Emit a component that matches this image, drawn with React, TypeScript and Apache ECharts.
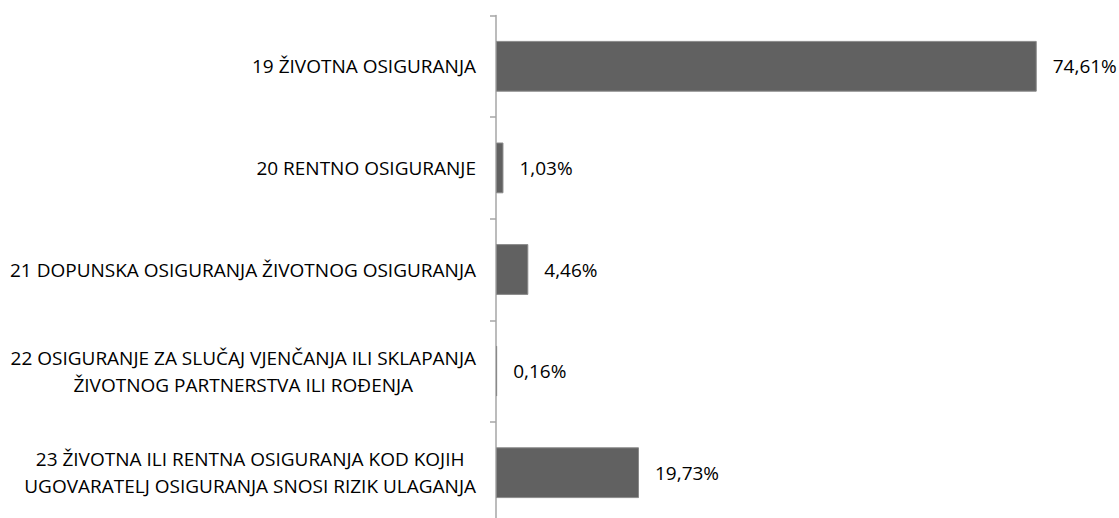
import React, { useEffect, useRef } from "react";
import * as echarts from "echarts";

const categories = [
  "19 ŽIVOTNA OSIGURANJA",
  "20 RENTNO OSIGURANJE",
  "21 DOPUNSKA OSIGURANJA ŽIVOTNOG OSIGURANJA",
  "22 OSIGURANJE ZA SLUČAJ VJENČANJA ILI SKLAPANJA\nŽIVOTNOG PARTNERSTVA ILI ROĐENJA",
  "23 ŽIVOTNA ILI RENTNA OSIGURANJA KOD KOJIH\nUGOVARATELJ OSIGURANJA SNOSI RIZIK ULAGANJA",
];
const shares = [74.61, 1.03, 4.46, 0.16, 19.73];

const FONT = "'Open Sans', sans-serif";
const FS = 19;

export default function App() {
  const ref = useRef<HTMLDivElement>(null);
  useEffect(() => {
    if (!ref.current) return;
    const chart = echarts.init(ref.current, null, { renderer: "svg" });
    chart.setOption({
      animation: false,
      backgroundColor: "#ffffff",
      grid: { left: 496, top: 15.5, width: 579.8, height: 508, containLabel: false },
      xAxis: {
        type: "value",
        min: 0,
        max: 80,
        show: false,
      },
      yAxis: {
        type: "category",
        inverse: true,
        data: categories,
        axisLine: { show: true, lineStyle: { color: "#a6a6a6", width: 1.5 } },
        axisTick: { show: true, length: 6, lineStyle: { color: "#a6a6a6", width: 1.5 } },
        splitLine: { show: false },
        axisLabel: {
          margin: 20,
          fontFamily: FONT,
          fontSize: FS,
          color: "#000",
          lineHeight: 27,
          formatter: (v: string) =>
            v
              .split("\n")
              .map((l) => "{c|" + l + "}")
              .join("\n"),
          rich: {
            c: { align: "center", fontFamily: FONT, fontSize: FS, color: "#000", lineHeight: 27 },
          },
        },
      },
      series: [
        {
          type: "bar",
          data: shares,
          barWidth: "50%",
          itemStyle: { color: "#616161", borderColor: "#8a8a8a", borderWidth: 1 },
          label: {
            show: true,
            position: "right",
            distance: 16,
            fontFamily: FONT,
            fontSize: FS,
            color: "#000",
            formatter: (p: any) => p.value.toFixed(2).replace(".", ",") + "%",
          },
        },
      ],
    });
    return () => chart.dispose();
  }, []);
  return (
    <div
      style={{
        position: "fixed",
        top: 0,
        left: 0,
        width: 1119,
        height: 518,
        overflow: "hidden",
        background: "#fff",
      }}
    >
      <div ref={ref} style={{ width: 1119, height: 530 }} />
    </div>
  );
}
